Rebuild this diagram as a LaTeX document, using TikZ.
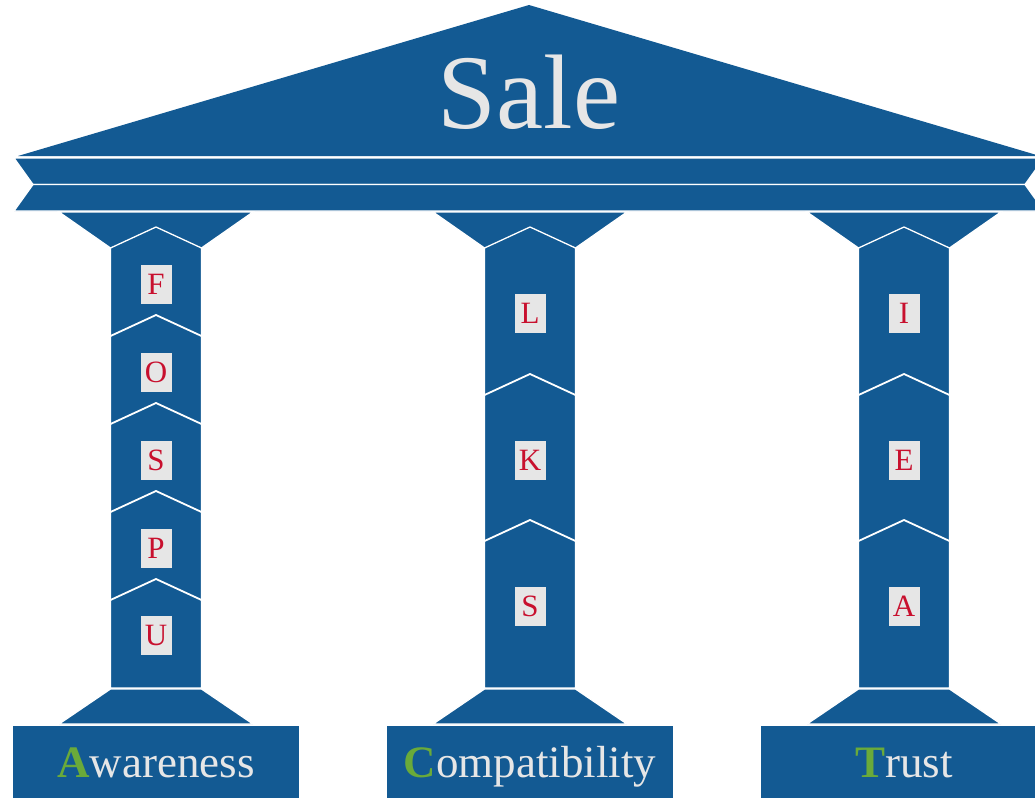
\documentclass[tikz,border=0pt]{standalone}
\usepackage{fontspec}
\setmainfont{Liberation Serif}
\definecolor{pillar}{RGB}{19,90,147}
\definecolor{lettergray}{RGB}{230,230,230}
\definecolor{letterred}{RGB}{200,16,46}
\definecolor{initgreen}{RGB}{106,170,58}
\begin{document}
\begin{tikzpicture}[x=1pt,y=-1pt,
  part/.style={fill=pillar,draw=white,line width=1.3pt},
  sep/.style={draw=white,line width=1.8pt},
  letterbox/.style={fill=lettergray,text=letterred,minimum width=31pt,minimum height=39pt,inner sep=0pt,font=\fontsize{31}{31}\selectfont},
  basetext/.style={text=lettergray,anchor=base,inner sep=0pt,font=\fontsize{45}{45}\selectfont},
  titletext/.style={text=lettergray,inner sep=0pt,font=\fontsize{106}{106}\selectfont}]
\useasboundingbox (0,0) rectangle (1035,797);
\clip (0,0) rectangle (1035,797);
% roof
\fill[pillar] (18,156) -- (529,5) -- (1040,156) -- cycle;
\node[titletext] (sale) at (529,92) {Sale};
% entablature bands
\filldraw[part] (14,158) -- (1044,158) -- (1025,184.5) -- (33,184.5) -- cycle;
\filldraw[part] (33,184.5) -- (1025,184.5) -- (1044,211) -- (14,211) -- cycle;
% columns
\foreach \c/\word/\init in {156/wareness/A,530/ompatibility/C,904/rust/T}{
  \filldraw[part] (\c-97,212) -- (\c+97,212) -- (\c+45.5,248) -- (\c-45.5,248) -- cycle;
  \filldraw[part] (\c-45.5,688) -- (\c-45.5,248) -- (\c,227) -- (\c+45.5,248) -- (\c+45.5,688) -- cycle;
  \filldraw[part] (\c-45.5,689) -- (\c+45.5,689) -- (\c+97,724) -- (\c-97,724) -- cycle;
  \filldraw[part] (\c-144,725.5) rectangle (\c+144,805);
  \node[basetext] (base\init) at (\c,777) {\textcolor{initgreen}{\textbf{\init}}\word};
}
% left column chevrons
\foreach \s in {336,424,512,600}{
  \draw[sep] (110.5,\s) -- (156,\s-21) -- (201.5,\s);
}
% middle and right column chevrons
\foreach \c in {530,904}{
  \foreach \s in {395,541}{
    \draw[sep] (\c-45.5,\s) -- (\c,\s-21) -- (\c+45.5,\s);
  }
}
% letters
\foreach \l/\y in {F/284,O/372,S/460,P/548,U/635}{
  \node[letterbox] (L1\l) at (156,\y) {\l};
}
\foreach \l/\y in {L/313,K/460,S/606}{
  \node[letterbox] (L2\l) at (530,\y) {\l};
}
\foreach \l/\y in {I/313,E/460,A/606}{
  \node[letterbox] (L3\l) at (904,\y) {\l};
}
\end{tikzpicture}
\end{document}
